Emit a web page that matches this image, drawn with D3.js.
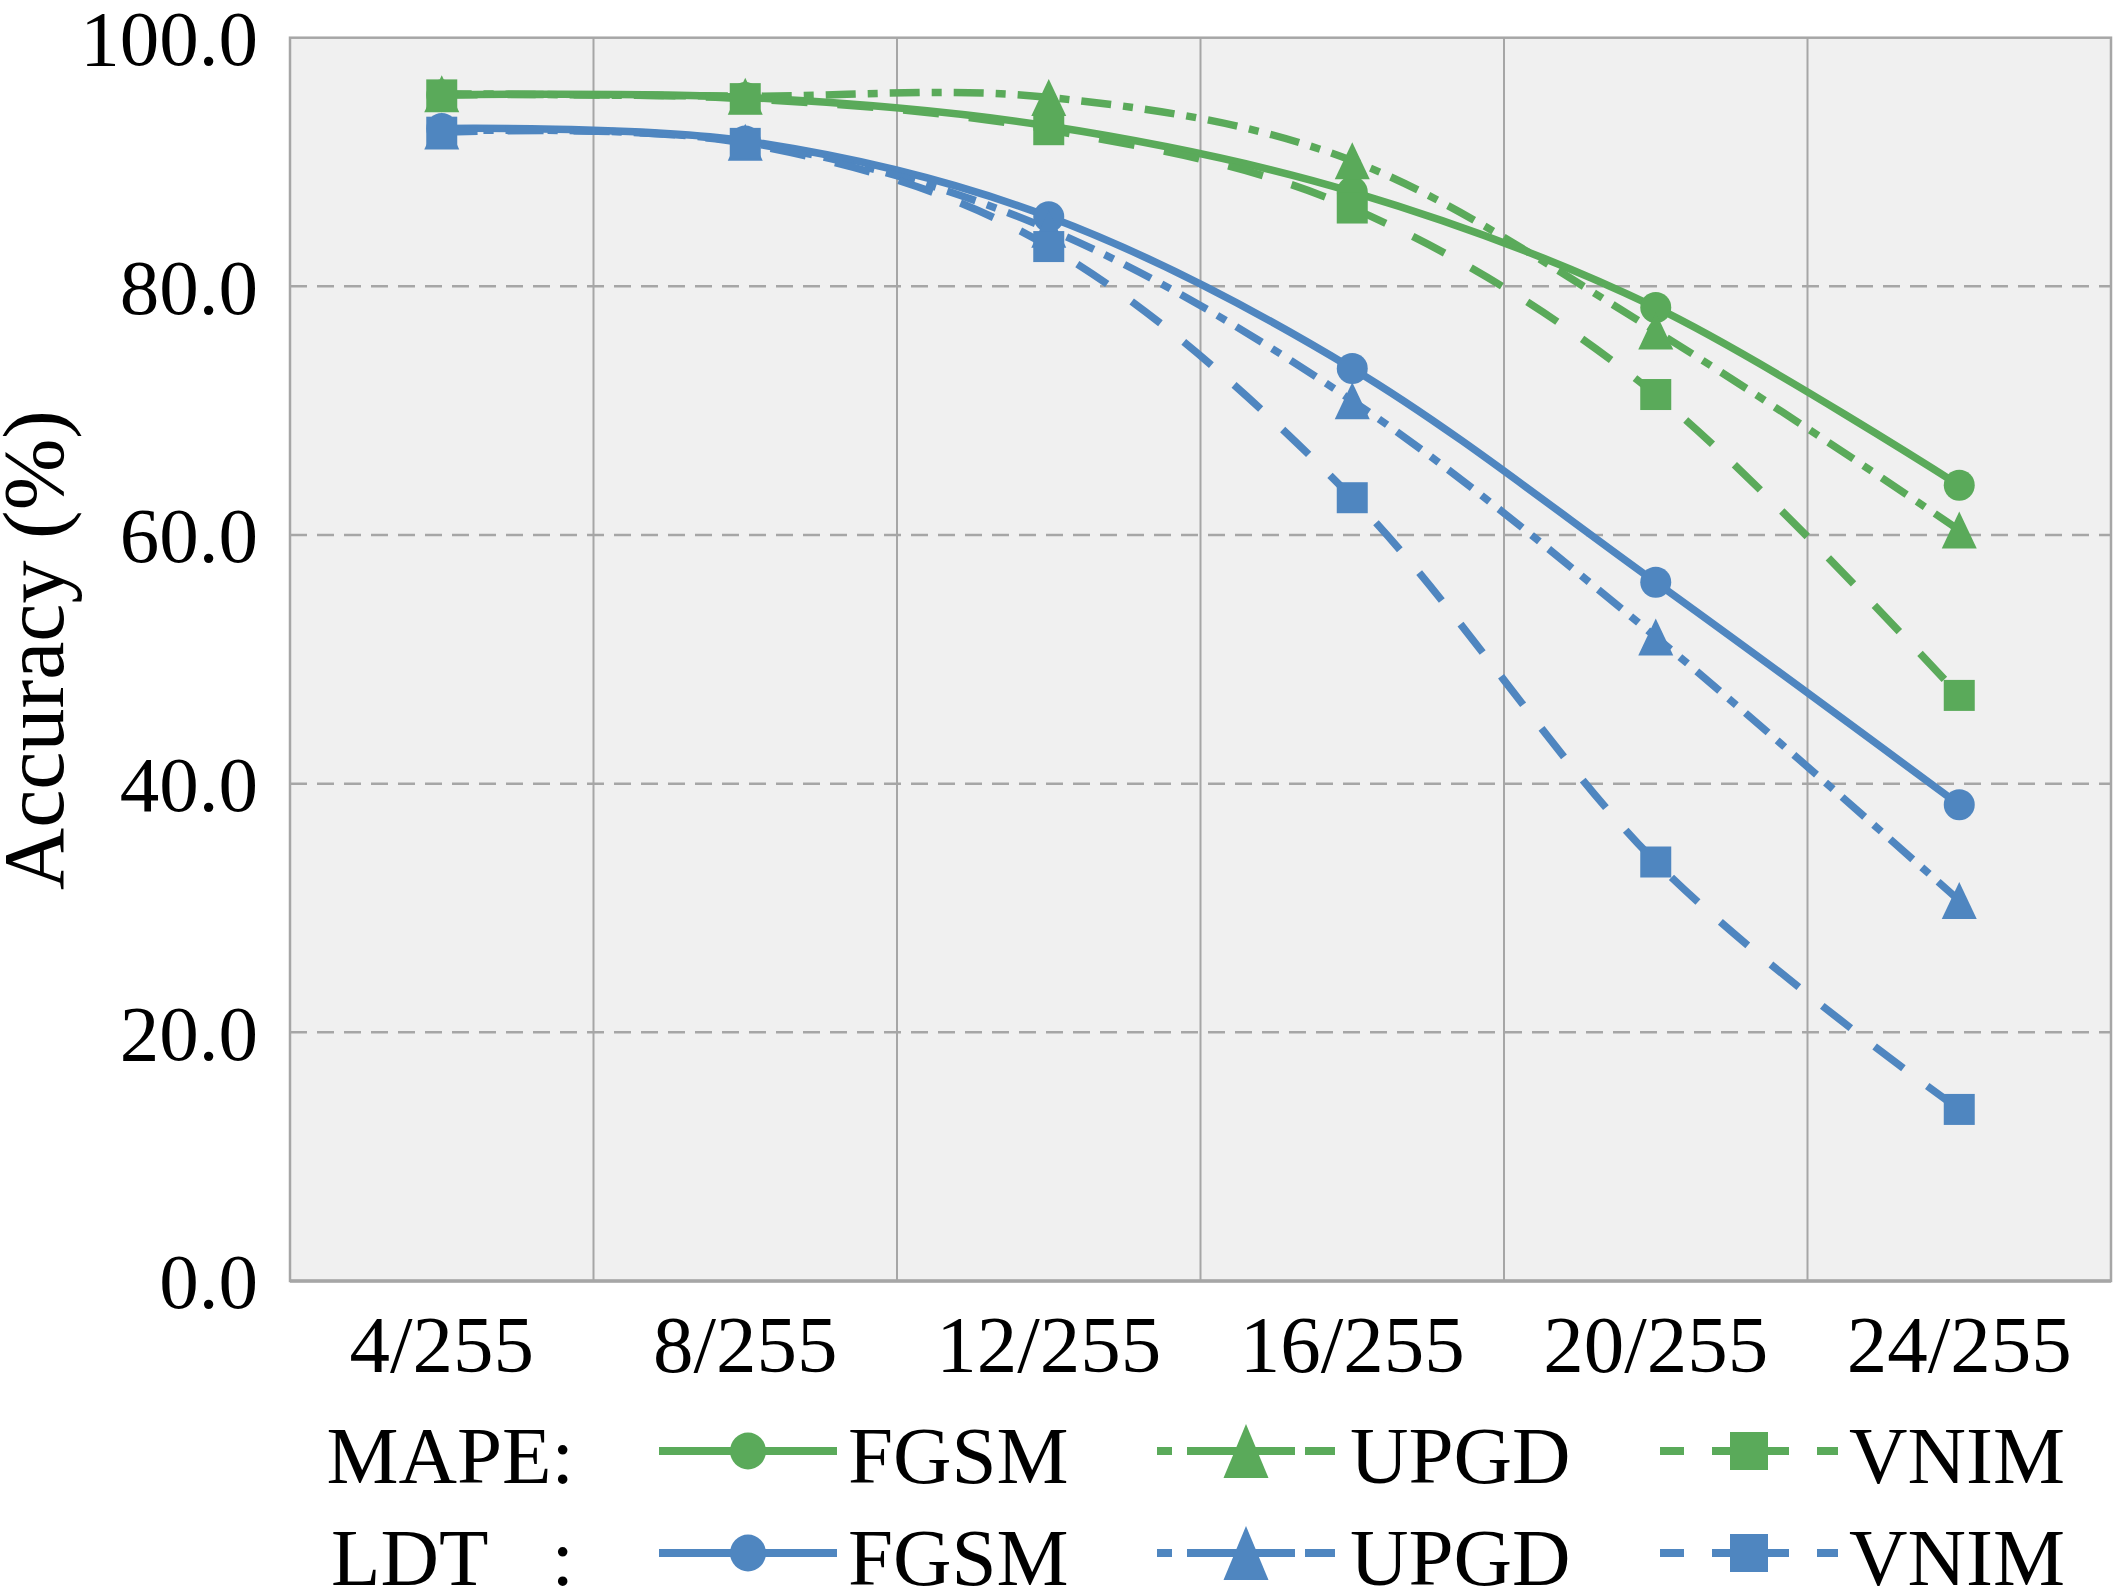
<!DOCTYPE html>
<html>
<head>
<meta charset="utf-8">
<script src="https://cdn.jsdelivr.net/npm/d3@7"></script>
<style>
  html, body { margin: 0; padding: 0; background: #ffffff; }
  svg text { font-family: "Liberation Serif", "Times New Roman", serif; fill: #000; }
</style>
</head>
<body>
<div id="chart"></div>
<script>
// Data
const categories = ["4/255", "8/255", "12/255", "16/255", "20/255", "24/255"];
const mapeFGSM = [95.4, 95.2, 92.9, 87.6, 78.3, 64.0];
const mapeUPGD = [95.5, 95.3, 95.2, 90.1, 76.4, 60.4];
const mapeVNIM = [95.4, 95.1, 92.6, 86.3, 71.3, 47.1];
const ldtFGSM = [92.7, 91.7, 85.6, 73.4, 56.2, 38.3];
const ldtUPGD = [92.5, 91.6, 84.6, 70.8, 51.8, 30.6];
const ldtVNIM = [92.4, 91.5, 83.2, 63.0, 33.7, 13.8];
const yTicks = [0, 20, 40, 60, 80, 100];
const groupNames = ["MAPE:", "LDT"];
const methodNames = ["FGSM", "UPGD", "VNIM"];

// Styles
const GREEN = "#5AAA5A";
const BLUE = "#4F86C0";
const GRID = "#A6A6A6";
const methodStyle = {
    FGSM: { dash: null, marker: "circle", legendDash: null },
    UPGD: { dash: "30,12,10,12", marker: "triangle", legendDash: "15,15,108,10,34" },
    VNIM: { dash: "36,30", marker: "square", legendDash: "24,28,77,28,24" }
};

const series = [
    { group: "LDT", method: "FGSM", values: ldtFGSM, color: BLUE },
    { group: "LDT", method: "UPGD", values: ldtUPGD, color: BLUE },
    { group: "LDT", method: "VNIM", values: ldtVNIM, color: BLUE },
    { group: "MAPE", method: "FGSM", values: mapeFGSM, color: GREEN },
    { group: "MAPE", method: "UPGD", values: mapeUPGD, color: GREEN },
    { group: "MAPE", method: "VNIM", values: mapeVNIM, color: GREEN }
];

const W = 2114, H = 1592;
const plot = { left: 290, right: 2111, top: 37.7, bottom: 1281 };

const svg = d3.select("#chart")
    .append("svg")
    .attr("width", W)
    .attr("height", H);

// Scales
const xScale = d3.scaleBand()
    .domain(categories)
    .range([plot.left, plot.right])
    .padding(0);
const xc = c => xScale(c) + xScale.bandwidth() / 2;

const yScale = d3.scaleLinear()
    .domain([0, 100])
    .range([plot.bottom, plot.top]);

// Plot background
svg.append("rect")
    .attr("x", plot.left)
    .attr("y", plot.top)
    .attr("width", plot.right - plot.left)
    .attr("height", plot.bottom - plot.top)
    .attr("fill", "#F0F0F0");

// Horizontal dashed gridlines
svg.append("g")
    .selectAll("line")
    .data(yTicks.filter(t => t > 0 && t < 100))
    .join("line")
    .attr("x1", plot.left)
    .attr("x2", plot.right)
    .attr("y1", d => yScale(d))
    .attr("y2", d => yScale(d))
    .attr("stroke", GRID)
    .attr("stroke-width", 2.5)
    .attr("stroke-dasharray", "17,10");

// Vertical gridlines between categories
svg.append("g")
    .selectAll("line")
    .data(categories.slice(1))
    .join("line")
    .attr("x1", d => xScale(d))
    .attr("x2", d => xScale(d))
    .attr("y1", plot.top)
    .attr("y2", plot.bottom)
    .attr("stroke", GRID)
    .attr("stroke-width", 2);

// Plot border
svg.append("rect")
    .attr("x", plot.left)
    .attr("y", plot.top)
    .attr("width", plot.right - plot.left)
    .attr("height", plot.bottom - plot.top)
    .attr("fill", "none")
    .attr("stroke", GRID)
    .attr("stroke-width", 2.5);

svg.append("line")
    .attr("x1", plot.left)
    .attr("x2", plot.right)
    .attr("y1", plot.bottom)
    .attr("y2", plot.bottom)
    .attr("stroke", GRID)
    .attr("stroke-width", 3.5);

// Y axis
const yAxis = svg.append("g")
    .attr("transform", `translate(${plot.left}, 0)`)
    .call(d3.axisLeft(yScale).tickValues(yTicks).tickFormat(d3.format(".1f")).tickSize(0).tickPadding(32));
yAxis.select(".domain").remove();
yAxis.selectAll("text")
    .style("font-size", "79px")
    .attr("dy", "0.34em");

// X axis
const xAxis = svg.append("g")
    .attr("transform", `translate(0, ${plot.bottom})`)
    .call(d3.axisBottom(xScale).tickSize(0));
xAxis.select(".domain").remove();
xAxis.selectAll("text")
    .style("font-size", "81px")
    .attr("y", 91)
    .attr("dy", 0);

// Y axis title
svg.append("text")
    .attr("transform", "rotate(-90)")
    .attr("x", -650)
    .attr("y", 63)
    .attr("text-anchor", "middle")
    .style("font-size", "86px")
    .text("Accuracy (%)");

// Marker drawing
function drawMarker(sel, type, color, size) {
    if (type === "circle") {
        sel.append("ellipse")
            .attr("rx", size.w / 2)
            .attr("ry", size.h / 2)
            .attr("fill", color);
    } else if (type === "square") {
        sel.append("rect")
            .attr("x", -size.w / 2)
            .attr("y", -size.h / 2)
            .attr("width", size.w)
            .attr("height", size.h)
            .attr("fill", color);
    } else {
        sel.append("path")
            .attr("d", `M0,${-size.h / 2}L${size.w / 2},${size.h / 2}L${-size.w / 2},${size.h / 2}Z`)
            .attr("fill", color);
    }
}

const chartMarkerSize = {
    circle: { w: 31, h: 31 },
    square: { w: 31, h: 31 },
    triangle: { w: 35, h: 37 }
};

const line = d3.line()
    .x((d, i) => xc(categories[i]))
    .y(d => yScale(d))
    .curve(d3.curveCardinal.tension(0));

// Series lines and markers
series.forEach(s => {
    const st = methodStyle[s.method];
    const g = svg.append("g").attr("class", `series ${s.group}-${s.method}`);

    g.append("path")
        .datum(s.values)
        .attr("d", line)
        .attr("fill", "none")
        .attr("stroke", s.color)
        .attr("stroke-width", 7.5)
        .attr("stroke-dasharray", st.dash);

    g.selectAll("g.mk")
        .data(s.values)
        .join("g")
        .attr("class", "mk")
        .attr("transform", (d, i) => `translate(${xc(categories[i])}, ${yScale(d)})`)
        .each(function () {
            drawMarker(d3.select(this), st.marker, s.color, chartMarkerSize[st.marker]);
        });
});

// Legend
const legendMarkerSize = {
    circle: { w: 36, h: 37 },
    square: { w: 38, h: 38 },
    triangle: { w: 45, h: 54 }
};
const legendRows = [
    { name: groupNames[0], color: GREEN, lineY: 1451, baseY: 1483 },
    { name: groupNames[1], color: BLUE, lineY: 1553, baseY: 1585 }
];
const sampleX = [659, 1157, 1660];
const sampleW = 178;
const labelX = [848, 1350, 1849];

legendRows.forEach((row, r) => {
    const lg = svg.append("g").attr("class", "legend-row");

    if (r === 0) {
        lg.append("text")
            .attr("x", 574)
            .attr("y", row.baseY)
            .attr("text-anchor", "end")
            .style("font-size", "81px")
            .text(row.name);
    } else {
        lg.append("text")
            .attr("x", 331)
            .attr("y", row.baseY)
            .style("font-size", "81px")
            .text(row.name);
        lg.append("text")
            .attr("x", 574)
            .attr("y", row.baseY)
            .attr("text-anchor", "end")
            .style("font-size", "81px")
            .text(":");
    }

    methodNames.forEach((m, i) => {
        const st = methodStyle[m];
        lg.append("line")
            .attr("x1", sampleX[i])
            .attr("x2", sampleX[i] + sampleW)
            .attr("y1", row.lineY)
            .attr("y2", row.lineY)
            .attr("stroke", row.color)
            .attr("stroke-width", 8)
            .attr("stroke-dasharray", st.legendDash);

        const mk = lg.append("g")
            .attr("transform", `translate(${sampleX[i] + sampleW / 2}, ${row.lineY})`);
        drawMarker(mk, st.marker, row.color, legendMarkerSize[st.marker]);

        lg.append("text")
            .attr("x", labelX[i])
            .attr("y", row.baseY)
            .style("font-size", "81px")
            .text(m);
    });
});
</script>
</body>
</html>
